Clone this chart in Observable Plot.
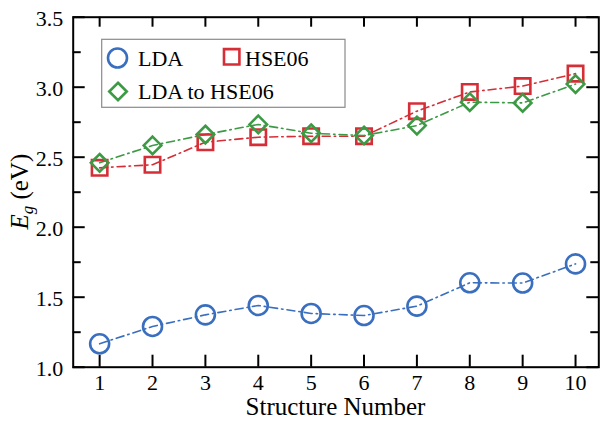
<!DOCTYPE html>
<html>
<head>
<meta charset="utf-8">
<script src="https://cdn.jsdelivr.net/npm/d3@7"></script>
<script src="https://cdn.jsdelivr.net/npm/@observablehq/plot@0.6"></script>
<style>
  html, body { margin: 0; padding: 0; background: white; }
  #chart svg { display: block; }
</style>
</head>
<body>
<div id="chart"></div>
<script>
// ---- data ----
const structures = [1, 2, 3, 4, 5, 6, 7, 8, 9, 10];
const lda       = [1.167, 1.291, 1.374, 1.441, 1.384, 1.369, 1.436, 1.603, 1.601, 1.738];
const hse06     = [2.424, 2.446, 2.607, 2.643, 2.650, 2.650, 2.829, 2.966, 3.008, 3.097];
const ldaToHse  = [2.460, 2.584, 2.662, 2.734, 2.671, 2.655, 2.726, 2.893, 2.888, 3.022];
const seriesNames = ["LDA", "HSE06", "LDA to HSE06"];
const xTicks = [1, 2, 3, 4, 5, 6, 7, 8, 9, 10];
const yMajor = [1.0, 1.5, 2.0, 2.5, 3.0, 3.5];
const yMinor = [1.25, 1.75, 2.25, 2.75, 3.25];
const xLabel = "Structure Number";

// ---- styles ----
const colors = {"LDA": "#3a6fbf", "HSE06": "#d62e36", "LDA to HSE06": "#3c9a44"};
const symbols = {"LDA": "circle", "HSE06": "square", "LDA to HSE06": "diamond2"};
const radii = {"LDA": 9.5, "HSE06": 8.7, "LDA to HSE06": 7.9};
const dash = "8,4,1.5,4";
const xDomain = [0.5, 10.44];
const yDomain = [1.0, 3.5];
const W = 600, H = 421, mL = 72.7, mR = 1.7, mT = 16.7, mB = 54.3;
const pw = W - mL - mR, ph = H - mT - mB;

const table = [];
[lda, hse06, ldaToHse].forEach((vals, i) => {
  structures.forEach((s, j) => table.push({series: seriesNames[i], x: s, y: vals[j]}));
});

const tk = {stroke: "black", strokeWidth: 2};
const marks = [
  // tick labels
  Plot.axisY(yMajor, {tickSize: 0, tickPadding: 10, tickFormat: d => d.toFixed(1), label: null, fontSize: 22, dy: 2}),
  Plot.axisX(xTicks, {tickSize: 0, tickPadding: 7, label: null, fontSize: 22}),
  // inner ticks (left / right / bottom / top)
  Plot.tickY(yMajor, {y: d => d, insetRight: pw - 12, ...tk}),
  Plot.tickY(yMinor, {y: d => d, insetRight: pw - 8, ...tk}),
  Plot.tickY(yMajor, {y: d => d, insetLeft: pw - 12, ...tk}),
  Plot.tickY(yMinor, {y: d => d, insetLeft: pw - 8, ...tk}),
  Plot.tickX(xTicks, {x: d => d, insetTop: ph - 12, ...tk}),
  Plot.tickX(xTicks, {x: d => d, insetBottom: ph - 10, ...tk}),
  Plot.frame({stroke: "black", strokeWidth: 2}),
];
seriesNames.forEach(name => {
  const d = table.filter(r => r.series === name);
  marks.push(Plot.line(d, {x: "x", y: "y", stroke: colors[name], strokeWidth: 1.6, strokeDasharray: dash}));
});
seriesNames.forEach(name => {
  const d = table.filter(r => r.series === name);
  marks.push(Plot.dot(d, {x: "x", y: "y", symbol: symbols[name], r: radii[name], stroke: colors[name], strokeWidth: 2.6, fill: "none"}));
});

const chart = Plot.plot({
  width: W,
  height: H,
  marginLeft: mL,
  marginRight: mR,
  marginTop: mT,
  marginBottom: mB,
  x: {domain: xDomain},
  y: {domain: yDomain},
  style: {fontFamily: "'Liberation Serif', 'Times New Roman', serif", fontSize: "22px", color: "black", background: "white"},
  marks
});

const svg = d3.select(chart);
const ff = "'Liberation Serif', 'Times New Roman', serif";

// x-axis title
svg.append("text")
  .attr("x", mL + pw / 2).attr("y", 414.5)
  .attr("text-anchor", "middle")
  .attr("font-family", ff).attr("font-size", 25).attr("fill", "black")
  .text(xLabel);

// y-axis title with subscript
const yt = svg.append("text")
  .attr("transform", `translate(28,${mT + ph / 2}) rotate(-90)`)
  .attr("text-anchor", "middle")
  .attr("font-family", ff).attr("font-size", 25).attr("fill", "black");
yt.append("tspan").attr("font-style", "italic").text("E");
yt.append("tspan").attr("font-style", "italic").attr("font-size", 17).attr("dy", 5).text("g");
yt.append("tspan").attr("dy", -5).text(" (eV)");

// legend
const lg = svg.append("g");
lg.append("rect").attr("x", 101.7).attr("y", 39.3).attr("width", 243.3).attr("height", 68)
  .attr("fill", "white").attr("stroke", "#8a8a8a").attr("stroke-width", 1.2);
const d3sym = {"circle": d3.symbolCircle, "square": d3.symbolSquare, "diamond2": d3.symbolDiamond2};
const legendPos = [
  {name: "LDA", sx: 117.5, sy: 58, tx: 138, ty: 65.5},
  {name: "HSE06", sx: 231.7, sy: 56.8, tx: 245, ty: 65.5},
  {name: "LDA to HSE06", sx: 118, sy: 91.5, tx: 138, ty: 98.5}
];
legendPos.forEach(p => {
  const r = radii[p.name];
  lg.append("path")
    .attr("d", d3.symbol(d3sym[symbols[p.name]], Math.PI * r * r)())
    .attr("transform", `translate(${p.sx},${p.sy})`)
    .attr("fill", "none").attr("stroke", colors[p.name]).attr("stroke-width", 2.6);
  lg.append("text").attr("x", p.tx).attr("y", p.ty)
    .attr("text-anchor", "start")
    .attr("font-family", ff).attr("font-size", 22).attr("fill", "black")
    .text(p.name);
});

document.getElementById("chart").appendChild(chart);
</script>
</body>
</html>
